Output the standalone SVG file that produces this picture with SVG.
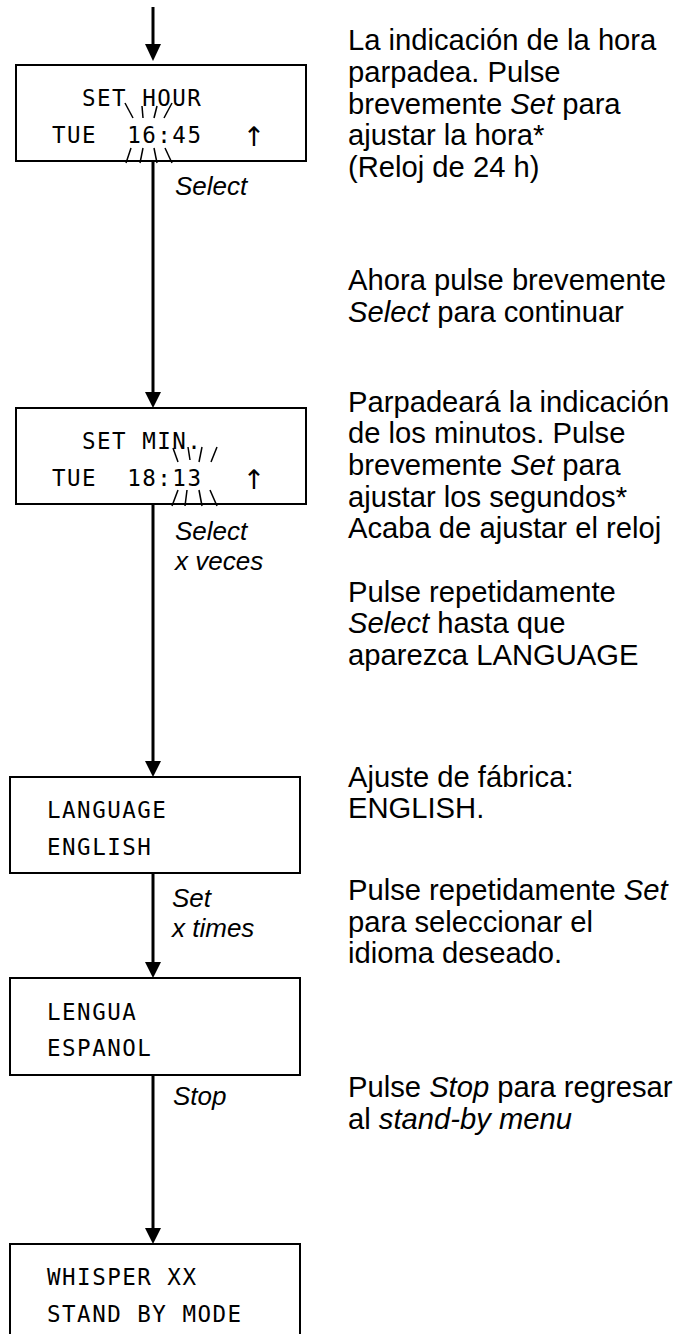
<svg xmlns="http://www.w3.org/2000/svg" width="677" height="1334" viewBox="0 0 677 1334">
<style>
.box{fill:#fff;stroke:#000;stroke-width:2}
.lcd{font-family:"DejaVu Sans Mono","Liberation Mono",monospace;font-size:22.5px;letter-spacing:1.5px;fill:#000;white-space:pre}
.up{font-family:"DejaVu Sans",sans-serif;font-size:27px;fill:#000;letter-spacing:0}
.lbl{font-family:"Liberation Sans",Arial,sans-serif;font-size:26px;font-style:italic;fill:#000}
.txt{font-family:"Liberation Sans",Arial,sans-serif;font-size:29.2px;fill:#000}
.conn{stroke:#000;stroke-width:3;fill:none}
.flash{stroke:#000;stroke-width:1.5;fill:none}
</style>

<g id="connectors">
<line class="conn" x1="153" y1="7" x2="153" y2="48"/>
<path d="M145,44 L161,44 L153,61 Z" fill="#000"/>
<line class="conn" x1="153" y1="161" x2="153" y2="394"/>
<path d="M145,392 L161,392 L153,408 Z" fill="#000"/>
<line class="conn" x1="153" y1="504" x2="153" y2="763"/>
<path d="M145,761 L161,761 L153,777 Z" fill="#000"/>
<line class="conn" x1="153" y1="873" x2="153" y2="964"/>
<path d="M145,962 L161,962 L153,978 Z" fill="#000"/>
<line class="conn" x1="153" y1="1075" x2="153" y2="1230"/>
<path d="M145,1228 L161,1228 L153,1244 Z" fill="#000"/>
<text class="lbl" x="175" y="195">Select</text>
<text class="lbl" x="175" y="540">Select</text>
<text class="lbl" x="175" y="570">x veces</text>
<text class="lbl" x="172" y="907">Set</text>
<text class="lbl" x="172" y="937">x times</text>
<text class="lbl" x="173" y="1105">Stop</text>
</g>

<g id="node-set-hour">
<rect class="box" x="16" y="65" width="290" height="96"/>
<text class="lcd" x="82" y="106">SET HOUR</text>
<text class="lcd" x="52" y="143">TUE  16:45</text>
<text class="up" x="254" y="146" text-anchor="middle">↑</text>
<g class="flash">
<line x1="125" y1="103" x2="133" y2="118"/>
<line x1="142" y1="106" x2="143" y2="118"/>
<line x1="157" y1="106" x2="154" y2="118"/>
<line x1="172" y1="103" x2="164" y2="118"/>
<line x1="131" y1="148" x2="126" y2="163"/>
<line x1="143" y1="148" x2="140" y2="163"/>
<line x1="154" y1="148" x2="157" y2="163"/>
<line x1="165" y1="148" x2="172" y2="163"/>
</g>
</g>

<g id="node-set-min">
<rect class="box" x="16" y="408" width="290" height="96"/>
<text class="lcd" x="82" y="449">SET MIN.</text>
<text class="lcd" x="52" y="486">TUE  18:13</text>
<text class="up" x="254" y="489" text-anchor="middle">↑</text>
<g class="flash">
<line x1="173" y1="448" x2="178" y2="462"/>
<line x1="188" y1="447" x2="190" y2="460"/>
<line x1="202" y1="447" x2="199" y2="462"/>
<line x1="217" y1="447" x2="211" y2="462"/>
<line x1="178" y1="490" x2="172" y2="506"/>
<line x1="187" y1="490" x2="185" y2="506"/>
<line x1="199" y1="490" x2="202" y2="506"/>
<line x1="210" y1="490" x2="217" y2="506"/>
</g>
</g>

<g id="node-language">
<rect class="box" x="10" y="777" width="290" height="96"/>
<text class="lcd" x="47" y="818">LANGUAGE</text>
<text class="lcd" x="47" y="855">ENGLISH</text>
</g>

<g id="node-lengua">
<rect class="box" x="10" y="978" width="290" height="97"/>
<text class="lcd" x="47" y="1020">LENGUA</text>
<text class="lcd" x="47" y="1056">ESPANOL</text>
</g>

<g id="node-standby">
<rect class="box" x="10" y="1244" width="290" height="96"/>
<text class="lcd" x="47" y="1285">WHISPER XX</text>
<text class="lcd" x="47" y="1322">STAND BY MODE</text>
</g>

<g id="descriptions">
<text class="txt" x="348" y="50">La indicación de la hora</text>
<text class="txt" x="348" y="82">parpadea. Pulse</text>
<text class="txt" x="348" y="114">brevemente <tspan font-style="italic">Set</tspan> para</text>
<text class="txt" x="348" y="145">ajustar la hora*</text>
<text class="txt" x="348" y="177">(Reloj de 24 h)</text>
<text class="txt" x="348" y="290">Ahora pulse brevemente</text>
<text class="txt" x="348" y="322"><tspan font-style="italic">Select</tspan> para continuar</text>
<text class="txt" x="348" y="412">Parpadeará la indicación</text>
<text class="txt" x="348" y="443">de los minutos. Pulse</text>
<text class="txt" x="348" y="475">brevemente <tspan font-style="italic">Set</tspan> para</text>
<text class="txt" x="348" y="507">ajustar los segundos*</text>
<text class="txt" x="348" y="538">Acaba de ajustar el reloj</text>
<text class="txt" x="348" y="602">Pulse repetidamente</text>
<text class="txt" x="348" y="633"><tspan font-style="italic">Select</tspan> hasta que</text>
<text class="txt" x="348" y="665">aparezca LANGUAGE</text>
<text class="txt" x="348" y="787">Ajuste de fábrica:</text>
<text class="txt" x="348" y="818">ENGLISH.</text>
<text class="txt" x="348" y="900">Pulse repetidamente <tspan font-style="italic">Set</tspan></text>
<text class="txt" x="348" y="932">para seleccionar el</text>
<text class="txt" x="348" y="963">idioma deseado.</text>
<text class="txt" x="348" y="1097">Pulse <tspan font-style="italic">Stop</tspan> para regresar</text>
<text class="txt" x="348" y="1129">al <tspan font-style="italic">stand-by menu</tspan></text>
</g>
</svg>
